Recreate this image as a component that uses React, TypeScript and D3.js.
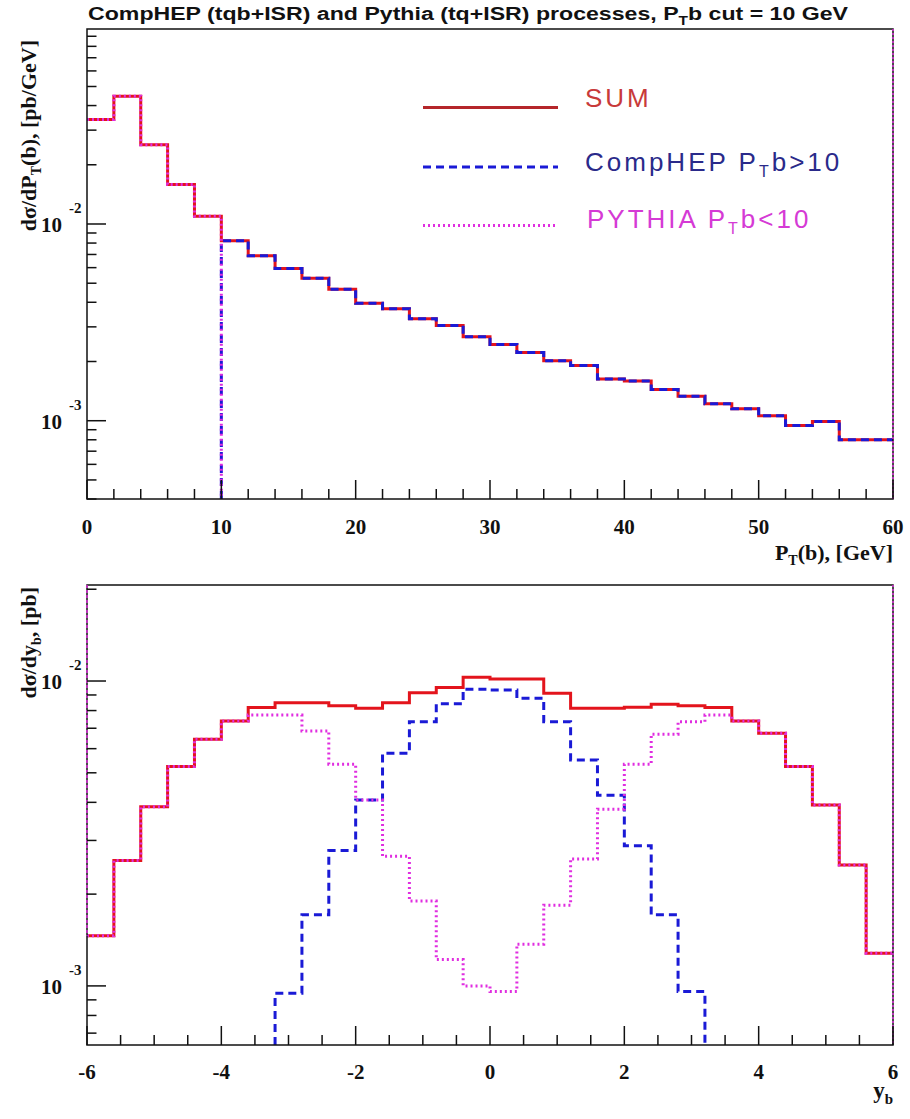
import React from 'react';
import * as d3 from 'd3';

// ---------- DATA ----------
const ptEdges = [0, 2, 4, 6, 8, 10, 12, 14, 16, 18, 20, 22, 24, 26, 28, 30, 32, 34, 36, 38, 40, 42, 44, 46, 48, 50, 52, 54, 56, 58, 60];
const ptSum = [0.034, 0.0446, 0.0253, 0.0159, 0.01094, 0.00822, 0.00689, 0.00594, 0.0053, 0.00466, 0.00395, 0.00371, 0.0033, 0.00305, 0.00267, 0.00244, 0.00222, 0.00202, 0.00191, 0.00163, 0.00159, 0.00144, 0.00133, 0.00122, 0.00115, 0.00106, 0.000946, 0.000992, 0.0008, 0.0008];
const ptCompHEP = [0, 0, 0, 0, 0, 0.00822, 0.00689, 0.00594, 0.0053, 0.00466, 0.00395, 0.00371, 0.0033, 0.00305, 0.00267, 0.00244, 0.00222, 0.00202, 0.00191, 0.00163, 0.00159, 0.00144, 0.00133, 0.00122, 0.00115, 0.00106, 0.000946, 0.000992, 0.0008, 0.0008];
const ptPythia = [0.034, 0.0446, 0.0253, 0.0159, 0.01094, 0, 0, 0, 0, 0, 0, 0, 0, 0, 0, 0, 0, 0, 0, 0, 0, 0, 0, 0, 0, 0, 0, 0, 0, 0];

const yEdges = [-6, -5.6, -5.2, -4.8, -4.4, -4, -3.6, -3.2, -2.8, -2.4, -2, -1.6, -1.2, -0.8, -0.4, 0, 0.4, 0.8, 1.2, 1.6, 2, 2.4, 2.8, 3.2, 3.6, 4, 4.4, 4.8, 5.2, 5.6, 6];
const ySum = [1.46e-3, 2.58e-3, 3.87e-3, 5.24e-3, 6.44e-3, 7.39e-3, 8.18e-3, 8.49e-3, 8.49e-3, 8.3e-3, 8.14e-3, 8.49e-3, 9.15e-3, 9.53e-3, 1.028e-2, 1.015e-2, 1.015e-2, 9.11e-3, 8.14e-3, 8.14e-3, 8.2e-3, 8.39e-3, 8.3e-3, 8.18e-3, 7.39e-3, 6.74e-3, 5.24e-3, 3.92e-3, 2.49e-3, 1.28e-3];
const yCompHEP = [0, 0, 0, 0, 0, 0, 0, 9.46e-4, 1.71e-3, 2.78e-3, 4.07e-3, 5.79e-3, 7.35e-3, 8.42e-3, 9.39e-3, 9.34e-3, 8.78e-3, 7.35e-3, 5.51e-3, 4.22e-3, 2.88e-3, 1.71e-3, 9.58e-4, 0, 0, 0, 0, 0, 0, 0];
const yPythia = [1.46e-3, 2.58e-3, 3.87e-3, 5.24e-3, 6.44e-3, 7.39e-3, 7.73e-3, 7.73e-3, 6.85e-3, 5.33e-3, 4.07e-3, 2.66e-3, 1.9e-3, 1.22e-3, 1.0e-3, 9.58e-4, 1.37e-3, 1.84e-3, 2.61e-3, 3.8e-3, 5.33e-3, 6.69e-3, 7.35e-3, 7.73e-3, 7.39e-3, 6.74e-3, 5.24e-3, 3.92e-3, 2.49e-3, 1.28e-3];

const ptMajorTicks = [0, 10, 20, 30, 40, 50, 60];
const yMajorTicks = [-6, -4, -2, 0, 2, 4, 6];

const legendLabels = ['SUM', 'CompHEP', 'PYTHIA'];

// ---------- STYLE ----------
const RED = '#e3141c';
const BLUE = '#1a1ad6';
const MAG = '#e02ee0';
const SERIF = '"Liberation Serif", "Times New Roman", serif';
const SANS = '"Liberation Sans", Arial, sans-serif';

type Scale = (v: number) => number;

function stepPath(edges: number[], vals: number[], x: Scale, y: Scale, yBottom: number) {
  const p = d3.path();
  let prev: number | null = null;
  for (let i = 0; i < vals.length; i++) {
    const x0 = x(edges[i]);
    const x1 = x(edges[i + 1]);
    const yi = vals[i] > 0 ? y(vals[i]) : null;
    if (yi === null) {
      if (prev !== null) p.lineTo(x0, yBottom);
      prev = null;
      continue;
    }
    if (prev === null) {
      if (i === 0) p.moveTo(x0, yi);
      else {
        p.moveTo(x0, yBottom);
        p.lineTo(x0, yi);
      }
    } else p.lineTo(x0, yi);
    p.lineTo(x1, yi);
    prev = yi;
  }
  return p.toString();
}

function logTicks(domain: number[]) {
  const [lo, hi] = domain;
  const out: { v: number; major: boolean; e: number }[] = [];
  for (let e = Math.floor(Math.log10(lo)); e <= Math.ceil(Math.log10(hi)); e++) {
    for (let m = 1; m <= 9; m++) {
      const v = m * Math.pow(10, e);
      if (v >= lo && v <= hi) out.push({ v, major: m === 1, e });
    }
  }
  return out;
}

interface PanelProps {
  x: d3.ScaleLinear<number, number>;
  y: d3.ScaleLogarithmic<number, number>;
  edges: number[];
  sum: number[];
  comp: number[];
  pyth: number[];
  majorX: number[];
  minorStep: number;
  labelY: number;
  leftEdgeMag?: boolean;
}

function Panel({ x, y, edges, sum, comp, pyth, majorX, minorStep, labelY, leftEdgeMag }: PanelProps) {
  const [x0, x1] = x.range();
  const [yb, yt] = y.range();
  const yt2 = logTicks(y.domain());
  const xd = x.domain();
  const minorX = d3.range(xd[0], xd[1] + 1e-9, minorStep).filter((v) => !majorX.some((m) => Math.abs(m - v) < 1e-9));
  return (
    <g>
      {/* histograms */}
      <path d={stepPath(edges, sum, x, y, yb)} fill="none" stroke={RED} strokeWidth={3} />
      <path d={stepPath(edges, comp, x, y, yb)} fill="none" stroke={BLUE} strokeWidth={3} strokeDasharray="8 5" />
      <path d={stepPath(edges, pyth, x, y, yb)} fill="none" stroke={MAG} strokeWidth={3} strokeDasharray="2 3" />
      {/* frame */}
      <rect x={x0} y={yt} width={x1 - x0} height={yb - yt} fill="none" stroke="#111" strokeWidth={1.5} />
      <line x1={x1} x2={x1} y1={yt} y2={yb} stroke={MAG} strokeWidth={1.5} strokeDasharray="2 2" />
      {leftEdgeMag && (
        <line x1={x0} x2={x0} y1={yt} y2={y(sum[0])} stroke={MAG} strokeWidth={1.5} strokeDasharray="3 2" />
      )}
      {/* y ticks */}
      {yt2.map((t, i) => (
        <line key={'yt' + i} x1={x0} x2={x0 + (t.major ? 19 : 9.5)} y1={y(t.v)} y2={y(t.v)} stroke="#111" strokeWidth={1.5} />
      ))}
      {yt2.filter((t) => t.major).map((t, i) => (
        <g key={'yl' + i} fontFamily={SERIF} fontWeight="bold" fill="#111">
          <text x={62} y={y(t.v) + 8} fontSize={21} textAnchor="end">10</text>
          <text x={69} y={y(t.v) - 11} fontSize={15}>{String(t.e)}</text>
        </g>
      ))}
      {/* x ticks */}
      {majorX.map((v) => (
        <line key={'xm' + v} x1={x(v)} x2={x(v)} y1={yb} y2={yb - 19} stroke="#111" strokeWidth={1.5} />
      ))}
      {minorX.map((v, i) => (
        <line key={'xn' + i} x1={x(v)} x2={x(v)} y1={yb} y2={yb - 10} stroke="#111" strokeWidth={1.5} />
      ))}
      {majorX.map((v) => (
        <text key={'xl' + v} x={x(v)} y={labelY} fontFamily={SERIF} fontWeight="bold" fontSize={21} textAnchor="middle" fill="#111">
          {String(v)}
        </text>
      ))}
    </g>
  );
}

export default function App() {
  const xPt = d3.scaleLinear().domain([0, 60]).range([87, 893]);
  const yPt = d3.scaleLog().domain([4e-4, 0.098]).range([499, 29]);
  const xY = d3.scaleLinear().domain([-6, 6]).range([87, 893]);
  const yY = d3.scaleLog().domain([6.4e-4, 0.02065]).range([1045, 585]);

  const legendY = [107.5, 167, 225.5];
  return (
    <svg width={910} height={1119} style={{ position: 'absolute', left: 0, top: 0, background: '#fff' }}>
      <rect x={0} y={0} width={910} height={1119} fill="#fff" />
      {/* title */}
      <text x={88} y={20} fontFamily={SANS} fontWeight="bold" fontSize={18} fill="#111" textLength={760} lengthAdjust="spacingAndGlyphs">
        CompHEP (tqb+ISR) and Pythia (tq+ISR) processes, P<tspan fontSize={12} dy={5}>T</tspan><tspan dy={-5}>b cut = 10 GeV</tspan>
      </text>

      <Panel x={xPt} y={yPt} edges={ptEdges} sum={ptSum} comp={ptCompHEP} pyth={ptPythia} majorX={ptMajorTicks} minorStep={2} labelY={534} />
      <Panel x={xY} y={yY} edges={yEdges} sum={ySum} comp={yCompHEP} pyth={yPythia} majorX={yMajorTicks} minorStep={0.5} labelY={1079} leftEdgeMag />

      {/* axis titles */}
      <text x={893} y={560} fontFamily={SERIF} fontWeight="bold" fontSize={22} textAnchor="end" fill="#111">
        P<tspan fontSize={14} dy={5}>T</tspan><tspan dy={-5}>(b), [GeV]</tspan>
      </text>
      <text x={893} y={1098} fontFamily={SERIF} fontWeight="bold" fontSize={23} textAnchor="end" fill="#111">
        y<tspan fontSize={15} dy={6}>b</tspan>
      </text>
      <text transform="translate(36,40) rotate(-90)" fontFamily={SERIF} fontWeight="bold" fontSize={22} textAnchor="end" fill="#111">
        dσ/dP<tspan fontSize={14} dy={5}>T</tspan><tspan dy={-5}>(b), [pb/GeV]</tspan>
      </text>
      <text transform="translate(36,587) rotate(-90)" fontFamily={SERIF} fontWeight="bold" fontSize={22} textAnchor="end" fill="#111">
        dσ/dy<tspan fontSize={14} dy={5}>b</tspan><tspan dy={-5}>, [pb]</tspan>
      </text>

      {/* legend */}
      <line x1={423} x2={558} y1={legendY[0]} y2={legendY[0]} stroke="#b5262a" strokeWidth={3} />
      <line x1={423} x2={558} y1={legendY[1]} y2={legendY[1]} stroke={BLUE} strokeWidth={3} strokeDasharray="8 5" />
      <line x1={423} x2={558} y1={legendY[2]} y2={legendY[2]} stroke={MAG} strokeWidth={3} strokeDasharray="2 3" />
      <g fontFamily={SANS} fontSize={26} letterSpacing={3}>
        <text x={585} y={107} fill="#c83a3a">{legendLabels[0]}</text>
        <text x={585} y={171} fill="#2a2a8a">
          {legendLabels[1]} P<tspan fontSize={16} dy={6}>T</tspan><tspan dy={-6}>b&gt;10</tspan>
        </text>
        <text x={587} y={228} fill="#d53ad5">
          {legendLabels[2]} P<tspan fontSize={16} dy={6}>T</tspan><tspan dy={-6}>b&lt;10</tspan>
        </text>
      </g>
    </svg>
  );
}
